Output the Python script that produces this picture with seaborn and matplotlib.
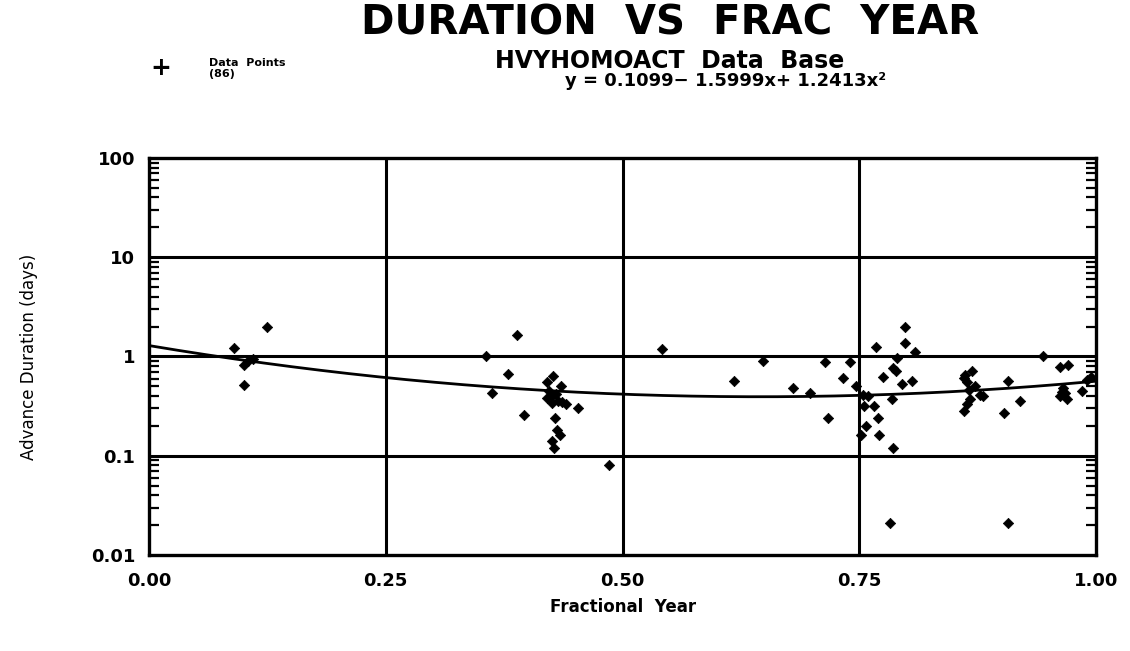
import numpy as np
import pandas as pd
import matplotlib
matplotlib.use("Agg")
import matplotlib.pyplot as plt
import matplotlib.ticker as mticker
import seaborn as sns

# Fractional year of each event and its advance duration (days)
frac_year = [
    0.090, 0.100, 0.105, 0.110, 0.100, 0.125,
    0.356, 0.362, 0.379, 0.389, 0.396, 0.420, 0.420, 0.422, 0.425, 0.425,
    0.427, 0.428, 0.426, 0.429, 0.430, 0.431, 0.432, 0.434, 0.435, 0.436,
    0.440, 0.453, 0.486,
    0.542, 0.618, 0.648, 0.680, 0.698, 0.714, 0.717, 0.733, 0.740, 0.747,
    0.752, 0.754, 0.755, 0.757, 0.759, 0.765, 0.768, 0.770, 0.771, 0.775,
    0.782, 0.784, 0.786, 0.786, 0.789, 0.790, 0.795, 0.798, 0.798, 0.806,
    0.809,
    0.860, 0.860, 0.862, 0.864, 0.864, 0.866, 0.867, 0.869, 0.872, 0.877,
    0.881, 0.903, 0.907, 0.907, 0.920, 0.944, 0.962, 0.962, 0.964, 0.965,
    0.967, 0.969, 0.970, 0.985, 0.990, 0.995,
]
duration = [
    1.23, 0.83, 0.90, 0.95, 0.52, 2.00,
    1.00, 0.43, 0.67, 1.63, 0.26, 0.55, 0.38, 0.45, 0.40, 0.34,
    0.64, 0.12, 0.14, 0.24, 0.42, 0.18, 0.36, 0.16, 0.50, 0.35,
    0.33, 0.30, 0.08,
    1.20, 0.56, 0.90, 0.48, 0.43, 0.87, 0.24, 0.61, 0.89, 0.51,
    0.16, 0.41, 0.32, 0.20, 0.40, 0.32, 1.26, 0.24, 0.16, 0.62,
    0.021, 0.37, 0.76, 0.12, 0.71, 0.96, 0.53, 2.00, 1.38, 0.56,
    1.10,
    0.61, 0.28, 0.65, 0.55, 0.33, 0.46, 0.37, 0.72, 0.50, 0.41,
    0.40, 0.27, 0.56, 0.021, 0.36, 1.00, 0.79, 0.40, 0.44, 0.48,
    0.43, 0.37, 0.82, 0.45, 0.58, 0.62,
]

# Quadratic fit of log10(duration) against fractional year
fit_coef = [0.1099, -1.5999, 1.2413]

x_ticks = [0.0, 0.25, 0.5, 0.75, 1.0]
x_labels = ["0.00", "0.25", "0.50", "0.75", "1.00"]
y_ticks = [0.01, 0.1, 1, 10, 100]
y_labels = ["0.01", "0.1", "1", "10", "100"]

pts = pd.DataFrame({"year": frac_year, "days": duration})
xs = np.linspace(0, 1, 200)
fit = pd.DataFrame({"year": xs,
                    "days": 10 ** (fit_coef[0] + fit_coef[1] * xs + fit_coef[2] * xs ** 2)})

sns.set_theme(style="white")
plt.rcParams["font.family"] = ["DejaVu Sans"]
plt.rcParams.update({"text.color": "black", "axes.labelcolor": "black",
                     "xtick.color": "black", "ytick.color": "black"})

fig = plt.figure(figsize=(11.3, 6.51), dpi=100)
ax = fig.add_axes([0.1319, 0.1475, 0.8381, 0.6098])

ax.set_yscale("log")
ax.set_xlim(0, 1)
ax.set_ylim(0.01, 100)

# grid lines at major ticks
for gx in x_ticks[1:-1]:
    ax.axvline(gx, color="black", lw=2.2, zorder=1)
for gy in y_ticks[1:-1]:
    ax.axhline(gy, color="black", lw=2.2, zorder=1)

sns.lineplot(data=fit, x="year", y="days", color="black", lw=2.0, ax=ax, zorder=2)
sns.scatterplot(data=pts, x="year", y="days", marker="D", s=28, color="black",
                edgecolor="black", linewidth=0.5, ax=ax, zorder=3)

ax.set_xticks(x_ticks)
ax.set_xticklabels(x_labels)
ax.set_yticks(y_ticks)
ax.set_yticklabels(y_labels)
ax.yaxis.set_minor_locator(mticker.LogLocator(base=10, subs=np.arange(2, 10)))
ax.yaxis.set_minor_formatter(mticker.NullFormatter())
ax.tick_params(axis="y", which="minor", direction="in", length=7, width=1.6,
               left=True, right=True, color="black")
ax.tick_params(axis="y", which="major", direction="in", length=0, labelsize=13, pad=10)
ax.tick_params(axis="x", which="major", direction="in", length=0, labelsize=13, pad=12)
for lab in ax.get_xticklabels() + ax.get_yticklabels():
    lab.set_fontweight("bold")

for sp in ax.spines.values():
    sp.set_color("black")
    sp.set_linewidth(2.4)

ax.set_xlabel("Fractional  Year", fontsize=12, fontweight="bold", labelpad=6)
ax.set_ylabel("Advance Duration (days)", fontsize=12, labelpad=38)

fig.text(0.593, 0.964, "DURATION  VS  FRAC  YEAR", ha="center", va="center",
         fontsize=29, fontweight="bold", family="DejaVu Sans")
fig.text(0.593, 0.906, "HVYHOMOACT  Data  Base", ha="center", va="center",
         fontsize=17, fontweight="bold", family="DejaVu Sans")

fig.text(0.142, 0.895, "+", ha="center", va="center", fontsize=18, fontweight="bold")
fig.text(0.185, 0.903, "Data  Points", ha="left", va="center", fontsize=8,
         fontweight="bold")
fig.text(0.185, 0.886, "(86)", ha="left", va="center", fontsize=8, fontweight="bold")

fig.text(0.500, 0.876, "y = 0.1099\u2212 1.5999x+ 1.2413x\u00b2", ha="left", va="center",
         fontsize=13, fontweight="bold")

fig.savefig("out.png", dpi=100, facecolor="white")
